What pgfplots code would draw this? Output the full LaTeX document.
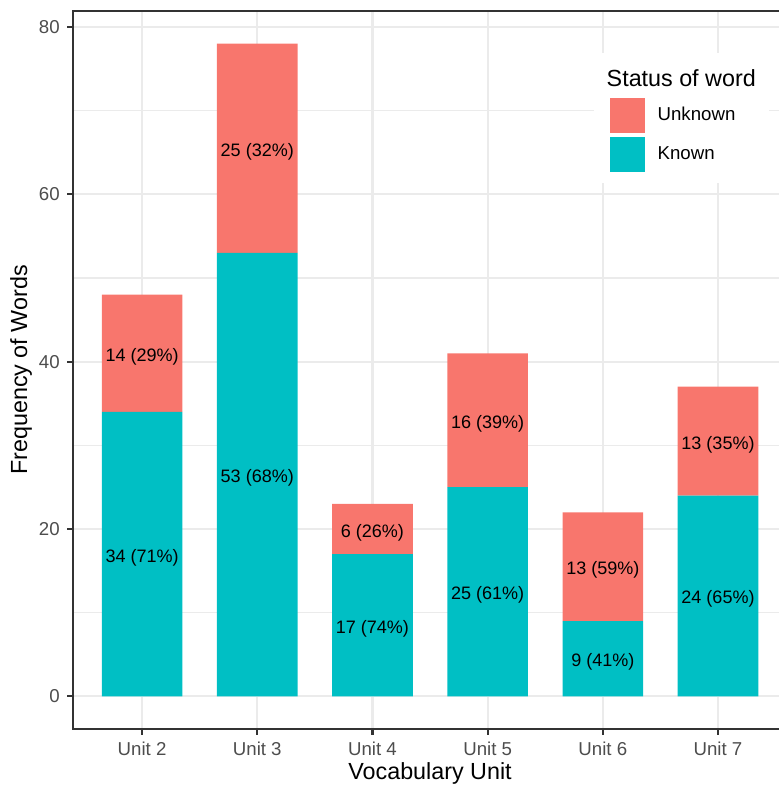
\documentclass[border=0pt]{standalone}
\usepackage{pgfplots}
\pgfplotsset{compat=1.18}
\usepackage{pgfplotstable}
\usepackage{fontspec}
\setmainfont{Liberation Sans}
\definecolor{ggred}{HTML}{F8766D}
\definecolor{ggcyan}{HTML}{00BFC4}
\definecolor{grey92}{HTML}{EBEBEB}
\definecolor{grey20}{HTML}{333333}
\definecolor{grey30}{HTML}{4D4D4D}

\pgfplotstableread[col sep=comma]{
x,known,unknown
0,34,14
1,53,25
2,17,6
3,25,16
4,9,13
5,24,13
}\datatable

\pgfplotstableread[col sep=comma]{
x,y,label
0,17,34 (71\%)
0,41,14 (29\%)
1,26.5,53 (68\%)
1,65.5,25 (32\%)
2,8.5,17 (74\%)
2,20,6 (26\%)
3,12.5,25 (61\%)
3,33,16 (39\%)
4,4.5,9 (41\%)
4,15.5,13 (59\%)
5,12,24 (65\%)
5,30.5,13 (35\%)
}\labeltable

\begin{document}
\begin{tikzpicture}
\useasboundingbox (-34.43pt,-26.42pt) rectangle (332.6pt,343.9pt);
\begin{axis}[
  at={(0,0)}, anchor=south west,
  scale only axis, width=336.9pt, height=338.7pt,
  xmin=-0.6, xmax=5.6, ymin=-3.9, ymax=81.9,
  ybar stacked, bar width=0.7,
  every axis plot post/.append style={
    legend image code/.code={\fill[##1,draw=none] (0pt,-8.25pt) rectangle (16.5pt,8.25pt);}},
  xtick={0,1,2,3,4,5},
  xticklabels={Unit 2,Unit 3,Unit 4,Unit 5,Unit 6,Unit 7},
  ytick={0,20,40,60,80},
  minor ytick={10,30,50,70},
  grid=both,
  major grid style={grey92, line width=1.07pt},
  minor grid style={grey92, line width=0.53pt},
  minor tick length=0pt,
  tick align=outside, major tick length=2.75pt,
  tick style={grey20, line width=1.07pt},
  axis line style={grey20, line width=1.07pt},
  xtick pos=lower, ytick pos=left,
  /pgf/number format/assume math mode=true,
  ticklabel style={font=\fontsize{8.8}{10}\selectfont, text=grey30},
  xlabel={Vocabulary Unit}, ylabel={Frequency of Words},
  every axis x label/.style={at={(axis description cs:0.5,0)}, anchor=center, yshift=-20.8pt, font=\fontsize{11}{13}\selectfont},
  every axis y label/.style={at={([xshift=-24.5pt]axis description cs:0,0.5)}, anchor=center, rotate=90, font=\fontsize{11}{13}\selectfont},
  reverse legend,
  legend cell align=left,
  legend style={at={(axis cs:4.06,71.5)}, anchor=north west, draw=none, fill=none,
    inner sep=0pt, outer sep=0pt, row sep=1.8pt,
    font=\fontsize{8.8}{10}\selectfont,
    nodes={inner sep=0pt, anchor=west},
    /tikz/every odd column/.append style={column sep=6.1pt}},
]
\addplot[fill=ggcyan, draw=none] table[x=x, y=known] {\datatable};
\addlegendentry{Known}
\addplot[fill=ggred, draw=none] table[x=x, y=unknown] {\datatable};
\addlegendentry{Unknown}
\fill[white] (axis cs:3.924,61.32) rectangle (axis cs:5.444,76.89);
\coordinate (ttl) at (axis cs:4.03,73.9);
\end{axis}
\begin{axis}[
  at={(0,0)}, anchor=south west,
  scale only axis, width=336.9pt, height=338.7pt,
  xmin=-0.6, xmax=5.6, ymin=-3.9, ymax=81.9,
  hide axis, clip=false,
]
\addplot[only marks, mark=none, nodes near coords, point meta=explicit symbolic,
  every node near coord/.append style={anchor=center, inner sep=0pt, yshift=-1.6pt, font=\fontsize{8.5}{10}\selectfont, text=black}]
  table[x=x, y=y, meta=label] {\labeltable};
\end{axis}
\node[anchor=west, inner sep=0pt, font=\fontsize{11}{13}\selectfont] at (ttl) {Status of word};
\end{tikzpicture}
\end{document}
